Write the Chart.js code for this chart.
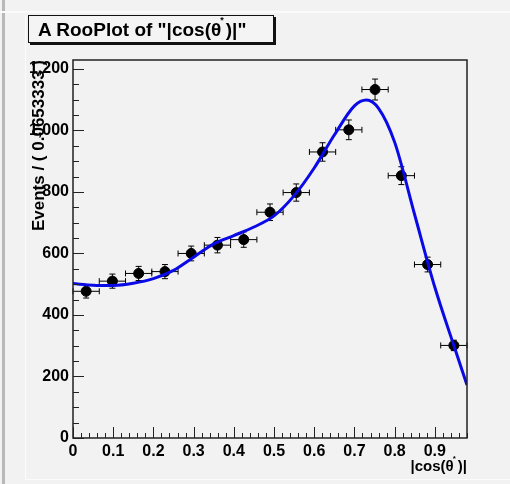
<!DOCTYPE html>
<html>
<head>
<meta charset="utf-8">
<script src="https://cdn.jsdelivr.net/npm/chart.js@4/dist/chart.umd.min.js"></script>
<style>
  html, body { margin: 0; padding: 0; background: #f2f2f2; }
  body { width: 510px; height: 484px; position: relative; overflow: hidden; font-family: "Liberation Sans", Arial, sans-serif; }
  #edge { position: absolute; left: 2px; top: 0; width: 3px; height: 484px; background: #b8b8b8; }
  #topline { position: absolute; left: 0; top: 11px; width: 510px; height: 2px; background: #fafafa; }
  #pad { position: absolute; left: 25px; top: 15px; width: 485px; height: 464px; border-left: 1px solid #fbfbfb; border-bottom: 1px solid #fbfbfb; }
  #wrap { position: absolute; left: 0; top: 0; width: 510px; height: 484px; }
  #title {
    position: absolute; left: 28px; top: 15px; width: 246px; height: 28px;
    border: 1px solid #111; box-shadow: 2px 2px 0 #111; background: #f4f4f4;
    font-weight: bold; font-size: 19px; line-height: 28px; padding-left: 9px; box-sizing: border-box;
    white-space: nowrap; color: #000;
  }
  .star { font-size: 9px; position: relative; top: -13px; margin-left: -1px; margin-right: 2px; }
  #xtitle {
    position: absolute; right: 43px; top: 457px; font-weight: bold; font-size: 15px; line-height: 18px; color: #000; white-space: nowrap;
  }
</style>
</head>
<body>
<div id="edge"></div>
<div id="topline"></div>
<div id="pad"></div>
<div id="wrap"><canvas id="plot" width="510" height="484"></canvas></div>
<div id="title">A RooPlot of "|cos(&theta;<span class="star">*</span>)|"</div>
<div id="xtitle">|cos(&theta;<span class="star" style="top:-10px;font-size:8px">*</span>)|</div>
<script>
// binned data: bin centres, counts, errors
const binCenters = [0.0327, 0.098, 0.1633, 0.2287, 0.294, 0.3593, 0.4247, 0.49, 0.5553, 0.6207, 0.686, 0.7513, 0.8167, 0.882, 0.9473];
const counts = [477, 510, 535, 541, 600, 627, 645, 734, 798, 930, 1002, 1133, 853, 564, 301];
const countErrors = [22, 23, 23, 23, 24, 25, 25, 27, 28, 30, 32, 34, 29, 24, 17];
const halfBin = 0.03267;

// fitted pdf curve
const curveX = [0, 0.05, 0.1, 0.15, 0.2, 0.25, 0.3, 0.35, 0.4, 0.45, 0.5, 0.55, 0.6, 0.65, 0.7, 0.73, 0.76, 0.8, 0.85, 0.9, 0.95, 0.98];
const curveY = [502, 497, 496, 503, 518, 545, 588, 631, 658, 686, 722, 788, 878, 985, 1080, 1099, 1072, 962, 725, 490, 290, 172];

const xTicks = [0, 0.1, 0.2, 0.3, 0.4, 0.5, 0.6, 0.7, 0.8, 0.9];
const yTicks = [0, 200, 400, 600, 800, 1000, 1200];

const FONT = '"Liberation Sans", Arial, sans-serif';

// error bars under the markers
const errorBars = {
  id: 'errorBars',
  beforeDatasetsDraw(chart) {
    const { ctx, scales: { x, y } } = chart;
    ctx.save();
    ctx.strokeStyle = '#000';
    ctx.lineWidth = 1;
    binCenters.forEach((c, i) => {
      const px = x.getPixelForValue(c);
      const py = y.getPixelForValue(counts[i]);
      const x0 = x.getPixelForValue(c - halfBin), x1 = x.getPixelForValue(c + halfBin);
      const y0 = y.getPixelForValue(counts[i] - countErrors[i]), y1 = y.getPixelForValue(counts[i] + countErrors[i]);
      ctx.beginPath();
      ctx.moveTo(x0, py); ctx.lineTo(x1, py);
      ctx.moveTo(px, y0); ctx.lineTo(px, y1);
      // caps
      ctx.moveTo(x0, py - 3); ctx.lineTo(x0, py + 3);
      ctx.moveTo(x1, py - 3); ctx.lineTo(x1, py + 3);
      ctx.moveTo(px - 3, y0); ctx.lineTo(px + 3, y0);
      ctx.moveTo(px - 3, y1); ctx.lineTo(px + 3, y1);
      ctx.stroke();
    });
    ctx.restore();
  }
};

// frame and inward tick marks
const frame = {
  id: 'frame',
  afterDraw(chart) {
    const { ctx, chartArea: a, scales: { x, y } } = chart;
    ctx.save();
    ctx.strokeStyle = '#222';
    ctx.lineWidth = 1.5;
    ctx.strokeRect(a.left, a.top, a.right - a.left, a.bottom - a.top);
    ctx.lineWidth = 1;
    ctx.beginPath();
    for (let v = 0; v <= x.max + 1e-9; v += 0.02) {
      const major = Math.abs(v * 10 - Math.round(v * 10)) < 1e-6;
      const px = Math.round(x.getPixelForValue(v)) + 0.5;
      ctx.moveTo(px, a.bottom);
      ctx.lineTo(px, a.bottom - (major ? 11 : 5));
    }
    for (let v = 0; v <= y.max; v += 50) {
      const major = v % 200 === 0;
      const py = Math.round(y.getPixelForValue(v)) + 0.5;
      ctx.moveTo(a.left, py);
      ctx.lineTo(a.left + (major ? 11 : 6), py);
    }
    ctx.stroke();
    ctx.restore();
  }
};

new Chart(document.getElementById('plot'), {
  type: 'scatter',
  data: {
    datasets: [
      {
        type: 'line',
        data: curveX.map((v, i) => ({ x: v, y: curveY[i] })),
        borderColor: '#0a0ae6',
        borderWidth: 3,
        pointRadius: 0,
        cubicInterpolationMode: 'monotone',
        fill: false,
        order: 0
      },
      {
        data: binCenters.map((v, i) => ({ x: v, y: counts[i] })),
        backgroundColor: '#000',
        borderColor: '#000',
        pointRadius: 5,
        order: 1
      }
    ]
  },
  options: {
    responsive: false,
    animation: false,
    layout: { padding: { left: 0, top: 60, right: 43, bottom: 0 } },
    plugins: { legend: { display: false }, tooltip: { enabled: false } },
    scales: {
      x: {
        type: 'linear', min: 0, max: 0.98,
        grid: { display: false, drawTicks: false },
        border: { display: false },
        afterBuildTicks: s => { s.ticks = xTicks.map(v => ({ value: v })); },
        afterFit: s => { s.height = 46; },
        ticks: {
          padding: 4, color: '#000', maxRotation: 0,
          font: { family: FONT, size: 16, weight: 'bold' },
          callback: v => v === 0 ? '0' : v.toFixed(1)
        }
      },
      y: {
        min: 0, max: 1229,
        grid: { display: false, drawTicks: false },
        border: { display: false },
        afterBuildTicks: s => { s.ticks = yTicks.map(v => ({ value: v })); },
        afterFit: s => { s.width = 73; },
        ticks: {
          padding: 4, color: '#000',
          font: { family: FONT, size: 16, weight: 'bold' }
        },
        title: {
          display: true, align: 'end', text: 'Events / ( 0.0653333 )', color: '#000',
          font: { family: FONT, size: 17, weight: 'bold' },
          padding: { top: 29, bottom: 0 }
        }
      }
    }
  },
  plugins: [errorBars, frame]
});
</script>
</body>
</html>
